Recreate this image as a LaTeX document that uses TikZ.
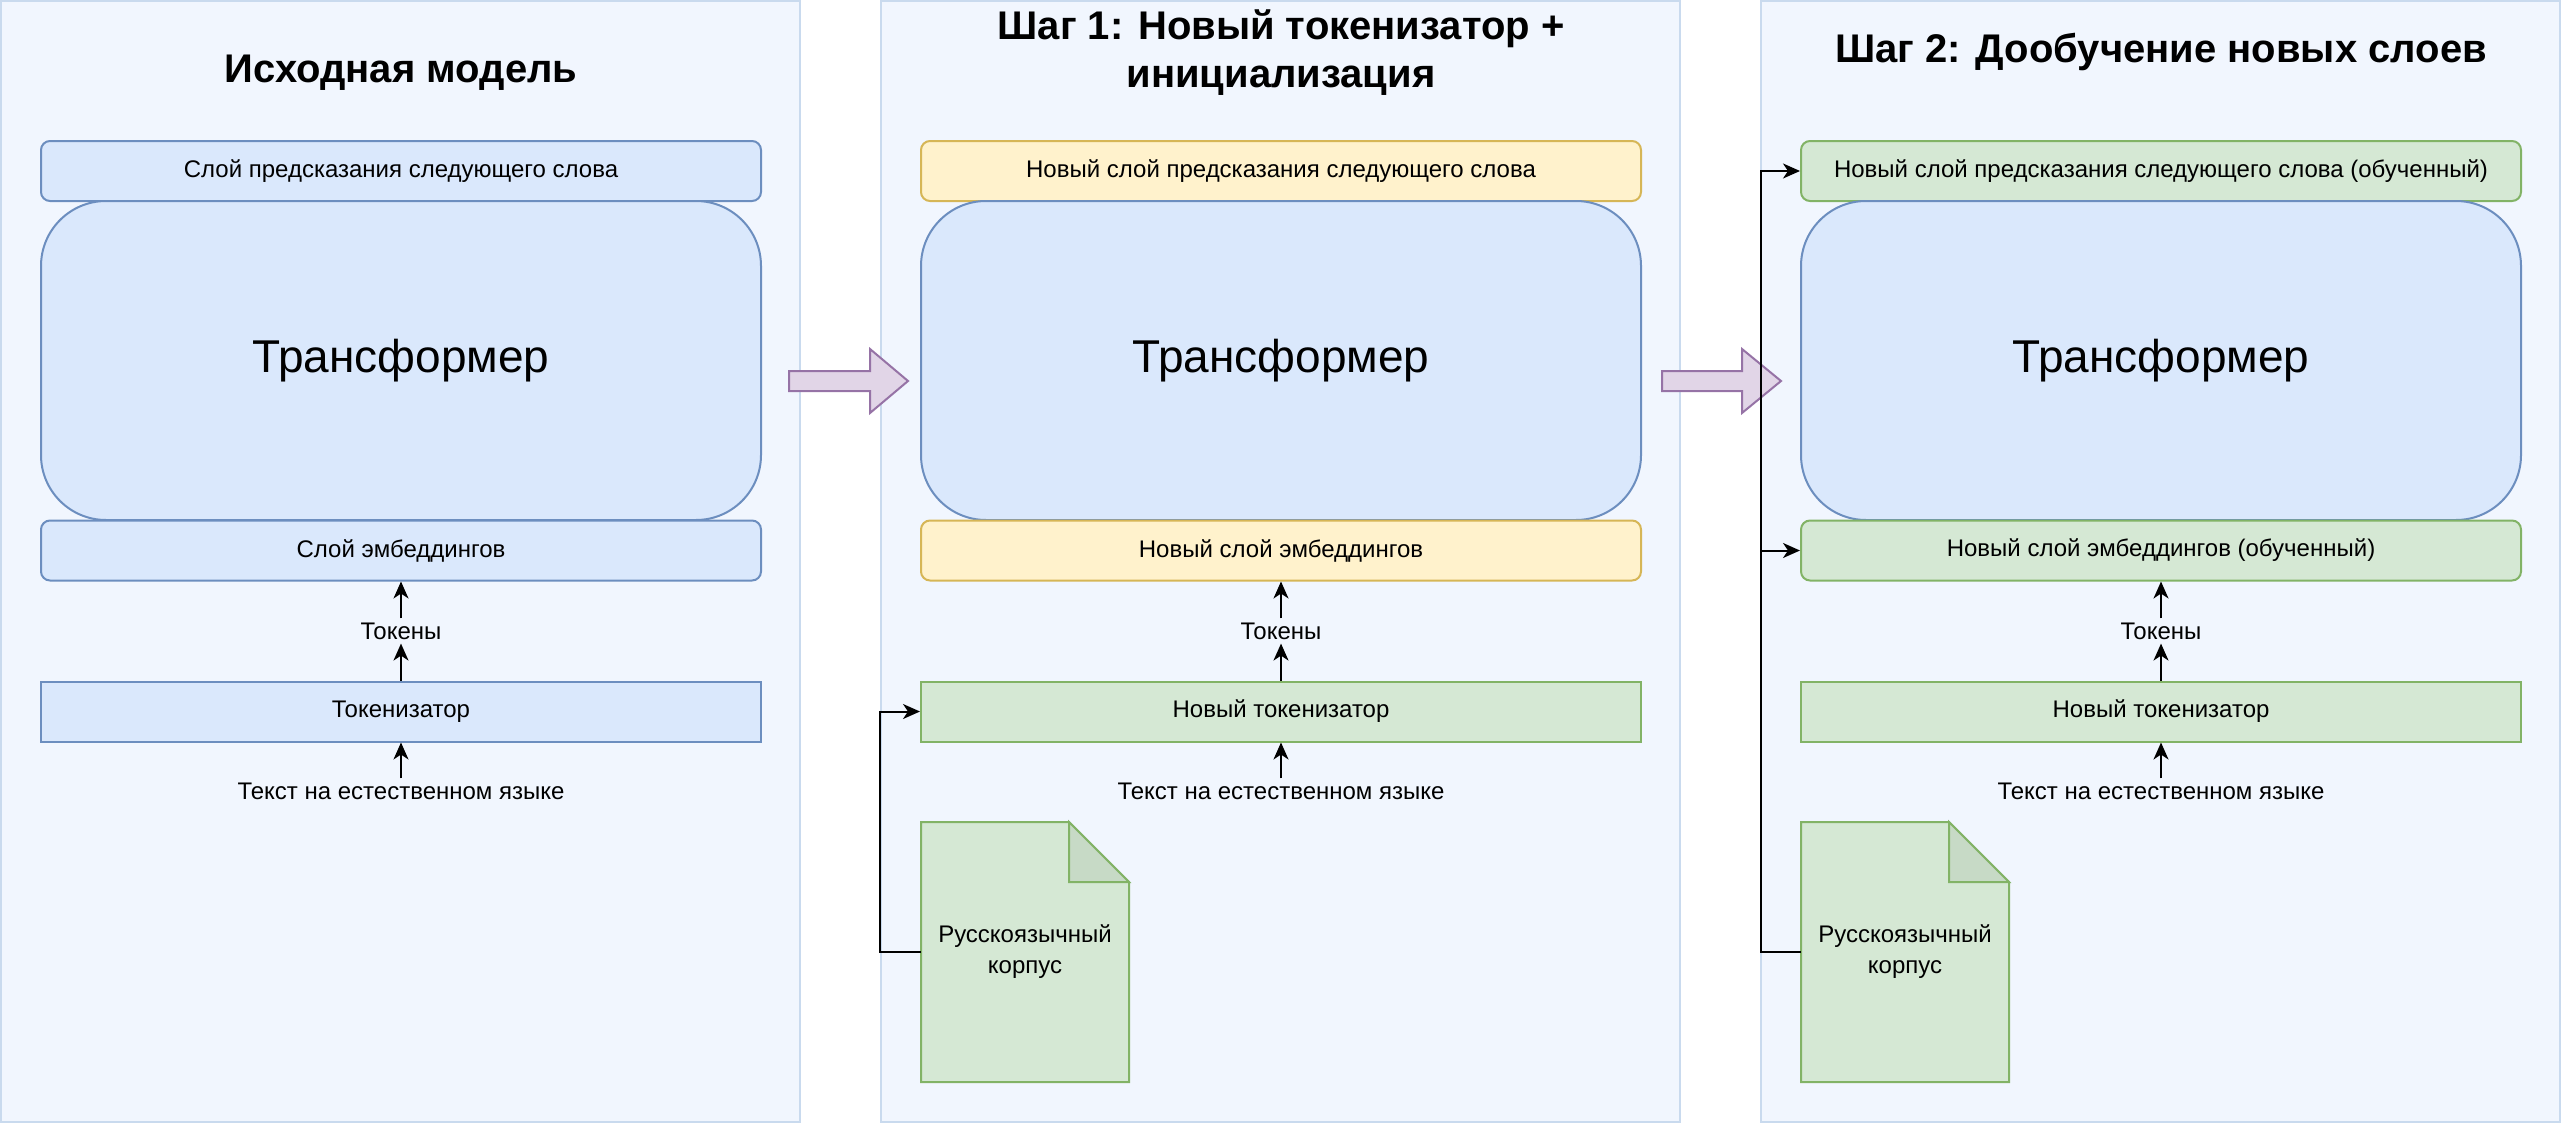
\documentclass[tikz,border=0pt]{standalone}
\usepackage{fontspec}
\setmainfont{Liberation Sans}
\usetikzlibrary{arrows.meta}

\definecolor{panelFill}{RGB}{241,246,254}
\definecolor{panelLine}{RGB}{201,218,238}
\definecolor{blueFill}{HTML}{DAE8FC}
\definecolor{blueLine}{HTML}{6C8EBF}
\definecolor{yellowFill}{HTML}{FFF2CC}
\definecolor{yellowLine}{HTML}{D6B656}
\definecolor{greenFill}{HTML}{D5E8D4}
\definecolor{greenLine}{HTML}{82B366}
\definecolor{foldFill}{RGB}{199,218,198}
\definecolor{purpleFill}{HTML}{E1D5E7}
\definecolor{purpleLine}{HTML}{9673A6}

\begin{document}
\begin{tikzpicture}[x=1pt, y=-1pt,
	panel/.style={draw=panelLine, fill=panelFill, line width=1.5pt, minimum width=799pt, minimum height=1121pt},
	ttl/.style={font=\fontsize{40}{48}\selectfont\bfseries, align=center},
	layer/.style={line width=2pt, rounded corners=9pt, minimum width=720pt, minimum height=60pt, font=\fontsize{24}{28}\selectfont},
	flat/.style={layer, sharp corners},
	trans/.style={draw=blueLine, fill=blueFill, line width=2pt, rounded corners=65pt, minimum width=720pt, minimum height=319pt, font=\fontsize{46}{54}\selectfont},
	blue/.style={draw=blueLine, fill=blueFill},
	yellow/.style={draw=yellowLine, fill=yellowFill},
	green/.style={draw=greenLine, fill=greenFill},
	lbl/.style={font=\fontsize{24}{28}\selectfont, inner sep=4pt},
	doctext/.style={font=\fontsize{24}{31}\selectfont, align=center, minimum width=208pt, minimum height=260pt},
	conn/.style={line width=2pt, -{Stealth[length=17pt, width=15pt, inset=5pt]}},
	bigarrow/.style={draw=purpleLine, fill=purpleFill, line width=2pt, line join=miter}
]
\useasboundingbox (0,0) rectangle (2562,1124);

% columns
\node[panel] (col1) at (400.5,561.5) {};
\node[panel] (col2) at (1280.5,561.5) {};
\node[panel] (col3) at (2160.5,561.5) {};

% original model
\node[ttl] (title1) at (401,73) {Исходная модель};
\node[layer, blue] (head1) at (401,171) {Слой предсказания следующего слова};
\node[trans] (trans1) at (401,360.5) {Трансформер};
\node[layer, blue] (emb1) at (401,550.5) {Слой эмбеддингов};
\node[lbl] (tokens1) at (401,631) {Токены};
\node[flat, blue] (tok1) at (401,711.5) {Токенизатор};
\node[lbl] (text1) at (401,791) {Текст на естественном языке};

% step 1
\node[ttl] (title2) at (1281,53) {Шаг 1: Новый токенизатор +\\инициализация};
\node[layer, yellow] (head2) at (1281,171) {Новый слой предсказания следующего слова};
\node[trans] (trans2) at (1281,360.5) {Трансформер};
\node[layer, yellow] (emb2) at (1281,550.5) {Новый слой эмбеддингов};
\node[lbl] (tokens2) at (1281,631) {Токены};
\node[flat, green] (tok2) at (1281,711.5) {Новый токенизатор};
\node[lbl] (text2) at (1281,791) {Текст на естественном языке};
\filldraw[green, line width=2pt] (921,822) -- (1069,822) -- (1129,882) -- (1129,1082) -- (921,1082) -- cycle;
\filldraw[draw=greenLine, fill=foldFill, line width=2pt] (1069,822) -- (1069,882) -- (1129,882) -- cycle;
\node[doctext] (corpus2) at (1025,952) {Русскоязычный\\корпус};

% step 2
\node[ttl] (title3) at (2161,52) {Шаг 2: Дообучение новых слоев};
\node[layer, green] (head3) at (2161,171) {Новый слой предсказания следующего слова (обученный)};
\node[trans] (trans3) at (2161,360.5) {Трансформер};
\node[layer, green] (emb3) at (2161,550.5) {Новый слой эмбеддингов (обученный)};
\node[lbl] (tokens3) at (2161,631) {Токены};
\node[flat, green] (tok3) at (2161,711.5) {Новый токенизатор};
\node[lbl] (text3) at (2161,791) {Текст на естественном языке};
\filldraw[green, line width=2pt] (1801,822) -- (1949,822) -- (2009,882) -- (2009,1082) -- (1801,1082) -- cycle;
\filldraw[draw=greenLine, fill=foldFill, line width=2pt] (1949,822) -- (1949,882) -- (2009,882) -- cycle;
\node[doctext] (corpus3) at (1905,952) {Русскоязычный\\корпус};

% big arrows between columns
\filldraw[bigarrow] (789,371) -- (870,371) -- (870,349) -- (908,381) -- (870,413) -- (870,391) -- (789,391) -- cycle;
\filldraw[bigarrow] (1662,371) -- (1742,371) -- (1742,349) -- (1781,381) -- (1742,413) -- (1742,391) -- (1662,391) -- cycle;

% connectors
\foreach \i in {1,2,3} {
	\draw[conn] (text\i) -- (tok\i);
	\draw[conn] (tok\i) -- (tokens\i);
	\draw[conn] (tokens\i) -- (emb\i);
}
\coordinate (bus2) at (880,952);
\coordinate (bus3) at (1761,952);
\draw[conn] (corpus2.west) -- (bus2) |- (tok2.west);
\draw[conn] (corpus3.west) -- (bus3) |- (head3.west);
\draw[conn] (bus3) |- (emb3.west);
\end{tikzpicture}
\end{document}
